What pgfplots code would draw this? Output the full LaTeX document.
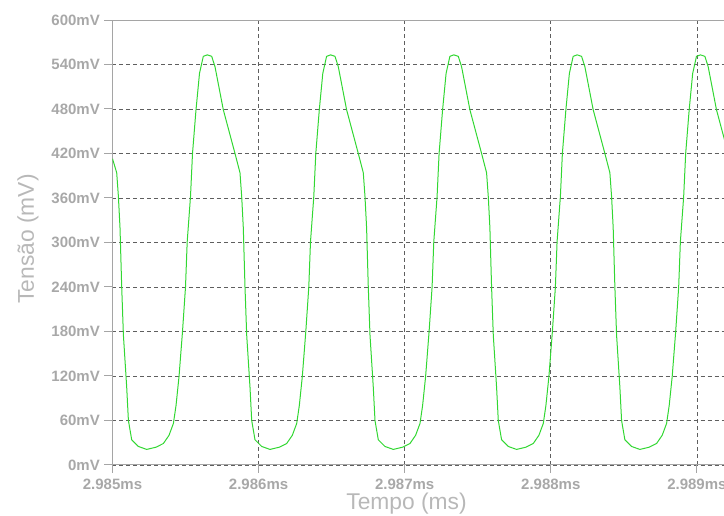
\documentclass[border=0pt]{standalone}
\usepackage{fontspec}
\setmainfont{Liberation Sans}
\usepackage{pgfplots}
\pgfplotsset{compat=1.18}
\definecolor{labgray}{RGB}{168,168,168}
\definecolor{titgray}{RGB}{184,184,184}
\definecolor{axgray}{RGB}{165,165,165}
\definecolor{gridgray}{RGB}{95,95,95}
\definecolor{wave}{RGB}{50,215,50}
\begin{document}
\begin{tikzpicture}
\begin{axis}[
  at={(0pt,0pt)}, anchor=south west,
  scale only axis, width=611.5pt, height=445pt,
  xmin=0, xmax=4185.5, ymin=0, ymax=600,
  axis x line=box, axis y line=left,
  axis line style={axgray, line width=1pt, -},
  xtick={0,1000,2000,3000,4000},
  xticklabels={2.985ms,2.986ms,2.987ms,2.988ms,2.989ms},
  ytick={0,60,120,180,240,300,360,420,480,540,600},
  yticklabels={0mV,60mV,120mV,180mV,240mV,300mV,360mV,420mV,480mV,540mV,600mV},
  xtick pos=bottom, ytick pos=left,
  tick align=outside, major tick length=8pt,
  tick style={axgray, line width=1pt},
  minor tick num=0,
  tick label style={font=\fontsize{15}{18}\selectfont\bfseries, text=labgray},
  yticklabel style={anchor=east, inner sep=0pt, xshift=-4.5pt},
  xticklabel style={anchor=north, inner sep=0pt, yshift=-5.5pt},
  grid=major,
  major grid style={gridgray, line width=0.8pt, dash pattern=on 4pt off 3pt},
  xlabel={Tempo (ms)},
  ylabel={Tensão (mV)},
  label style={font=\fontsize{22.8}{27}\selectfont, text=titgray},
  xlabel style={at={(axis description cs:0.5,0)}, anchor=base, inner sep=0pt, yshift=-45pt, xshift=-11.7pt},
  ylabel style={at={(axis description cs:-0.1382,0.508)}, anchor=center},
  clip=true,
]
\addplot[wave, line width=1pt, line join=round] coordinates {
(0,413) (28.8,394) (40.4,362) (51.4,320) (63.0,240) (74.7,175) (97.2,105) (108.9,60) (131.5,34) (177.3,25) (234.1,21) (297.8,24) (348.4,29) (386.8,40) (416.9,56) (434.7,80) (455.2,119) (479.2,180) (499.7,240) (511.3,301) (533.9,362) (547.6,420) (571.6,479) (595.5,528)
(621.5,551) (648.9,553) (679.0,551) (701.6,537) (758.4,479) (838.5,420) (872.7,394) (884.3,362) (895.3,320) (906.9,240) (918.6,175) (941.1,105) (952.8,60) (975.4,34) (1021.2,25) (1078.0,21) (1141.7,24) (1192.3,29) (1230.7,40) (1260.8,56) (1278.6,80) (1299.1,119) (1323.1,180) (1343.6,240) (1355.2,301) (1377.8,362) (1391.5,420) (1415.5,479) (1439.4,528)
(1465.4,551) (1492.8,553) (1522.9,551) (1545.5,537) (1602.3,479) (1682.4,420) (1716.6,394) (1728.2,362) (1739.2,320) (1750.8,240) (1762.5,175) (1785.0,105) (1796.7,60) (1819.3,34) (1865.1,25) (1921.9,21) (1985.6,24) (2036.2,29) (2074.6,40) (2104.7,56) (2122.5,80) (2143.0,119) (2167.0,180) (2187.5,240) (2199.1,301) (2221.7,362) (2235.4,420) (2259.4,479) (2283.3,528)
(2309.3,551) (2336.7,553) (2366.8,551) (2389.4,537) (2446.2,479) (2526.3,420) (2560.5,394) (2572.1,362) (2583.1,320) (2594.7,240) (2606.4,175) (2628.9,105) (2640.6,60) (2663.2,34) (2709.0,25) (2765.8,21) (2829.5,24) (2880.1,29) (2918.5,40) (2948.6,56) (2966.4,80) (2986.9,119) (3010.9,180) (3031.4,240) (3043.0,301) (3065.6,362) (3079.3,420) (3103.3,479) (3127.2,528)
(3153.2,551) (3180.6,553) (3210.7,551) (3233.3,537) (3290.1,479) (3370.2,420) (3404.4,394) (3416.0,362) (3427.0,320) (3438.6,240) (3450.3,175) (3472.8,105) (3484.5,60) (3507.1,34) (3552.9,25) (3609.7,21) (3673.4,24) (3724.0,29) (3762.4,40) (3792.5,56) (3810.3,80) (3830.8,119) (3854.8,180) (3875.3,240) (3886.9,301) (3909.5,362) (3923.2,420) (3947.2,479) (3971.1,528)
(3997.1,551) (4024.5,553) (4054.6,551) (4077.2,537) (4134.0,479) (4214.1,420) (4248.3,394)
};
\end{axis}
\pgfresetboundingbox
\path (-112.5pt,-51pt) rectangle (611.5pt,465pt);
\end{tikzpicture}
\end{document}
